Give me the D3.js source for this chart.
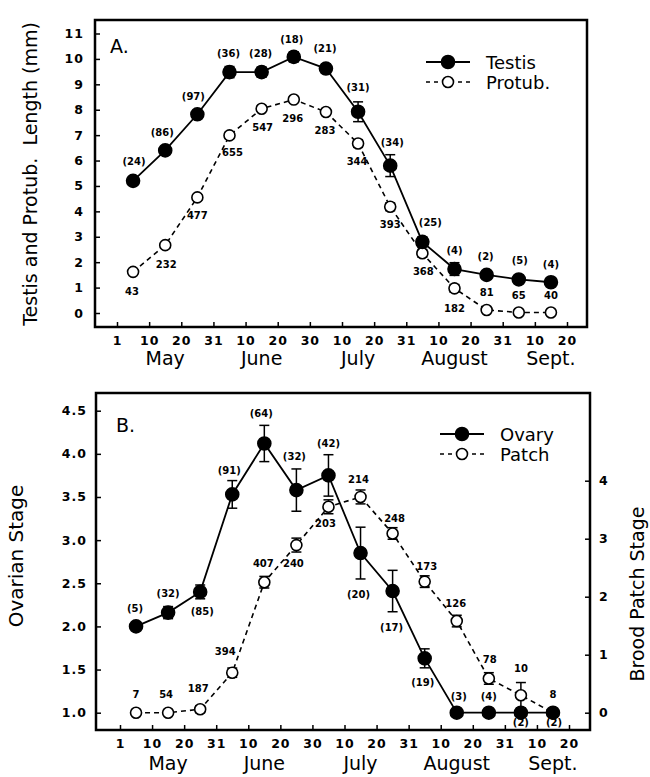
<!DOCTYPE html>
<html>
<head>
<meta charset="utf-8">
<script src="https://cdn.jsdelivr.net/npm/d3@7"></script>
<style>
  body { margin: 0; background: #fff; }
  svg { display: block; }
  text { font-family: "DejaVu Sans", sans-serif; fill: #000; }
  .tick text { font-size: 12.5px; font-weight: bold; letter-spacing: 1px; }
  .tick line { stroke: #000; stroke-width: 1.5; }
  .nlab { font-size: 10px; font-weight: bold; }
</style>
</head>
<body>
<div id="chart"></div>
<script>
// 10-day periods, 1 May – 20 Sept.
const periods = ["May 1-10", "May 11-20", "May 21-31", "Jun 1-10", "Jun 11-20", "Jun 21-30",
    "Jul 1-10", "Jul 11-20", "Jul 21-31", "Aug 1-10", "Aug 11-20", "Aug 21-31", "Sep 1-10", "Sep 11-20"];
const dayTicks = ["1", "10", "20", "31", "10", "20", "30", "10", "20", "31", "10", "20", "31", "10", "20"];
const months = ["May", "June", "July", "August", "Sept."];

// A. testis / protuberance length (mm)
const lengthTicks = [0, 1, 2, 3, 4, 5, 6, 7, 8, 9, 10, 11];
const testis = [5.2, 6.4, 7.82, 9.48, 9.48, 10.08, 9.62, 7.92, 5.8, 2.8, 1.73, 1.5, 1.32, 1.21];
const testisErr = [0.12, 0.1, 0.12, 0.22, 0.2, 0.2, 0.18, 0.39, 0.43, 0.2, 0.25, 0.1, 0.15, 0.1];
const testisN = ["(24)", "(86)", "(97)", "(36)", "(28)", "(18)", "(21)", "(31)", "(34)", "(25)", "(4)", "(2)", "(5)", "(4)"];
const protub = [1.62, 2.67, 4.55, 6.99, 8.04, 8.4, 7.91, 6.67, 4.18, 2.35, 0.97, 0.12, 0.02, 0.02];
const protubErr = [0.1, 0.1, 0.1, 0.12, 0.1, 0.1, 0.1, 0.15, 0.15, 0.15, 0.15, 0.1, 0.1, 0];
const protubN = ["43", "232", "477", "655", "547", "296", "283", "344", "393", "368", "182", "81", "65", "40"];

// B. ovarian stage (left) / brood patch stage (right)
const ovaryTicks = [1.0, 1.5, 2.0, 2.5, 3.0, 3.5, 4.0, 4.5];
const patchTicks = [0, 1, 2, 3, 4];
const ovary = [2.0, 2.16, 2.4, 3.53, 4.12, 3.58, 3.75, 2.85, 2.41, 1.63, 1.0, 1.0, 1.0, 1.0];
const ovaryErr = [0, 0.07, 0.08, 0.16, 0.21, 0.245, 0.24, 0.3, 0.24, 0.11, 0, 0, 0, 0];
const ovaryN = ["(5)", "(32)", "(85)", "(91)", "(64)", "(32)", "(42)", "(20)", "(17)", "(19)", "(3)", "(4)", "(2)", "(2)"];
const patch = [0, 0, 0.06, 0.69, 2.25, 2.89, 3.55, 3.72, 3.09, 2.26, 1.58, 0.59, 0.3, 0];
const patchErr = [0, 0, 0.06, 0.08, 0.1, 0.12, 0.12, 0.12, 0.1, 0.1, 0.1, 0.1, 0.22, 0];
const patchN = ["7", "54", "187", "394", "407", "240", "203", "214", "248", "173", "126", "78", "10", "8"];

// label offsets from each point (layout only)
const testisOff = [[1,-19],[-3,-18],[-4,-18],[-1,-19],[-1,-19],[-2,-17],[-1,-20],[0,-24],[2,-23],[8,-19],[0,-19],[-1,-18],[1,-19],[0,-18]];
const protubOff = [[-1,20],[1,19],[0,18],[3,17],[1,19],[-1,19],[-1,18],[-1,18],[0,18],[1,18],[0,20],[0,-17],[0,-17],[0,-17]];
const ovaryOff = [[-1,-18],[0,-19],[2,20],[-3,-24],[-3,-30],[-2,-34],[0,-32],[-2,41],[-1,36],[-2,24],[2,-16],[0,-16],[0,10],[1,10]];
const patchOff = [[0,-18],[-2,-18],[-2,-21],[-7,-21],[-1,-19],[-3,18],[-3,17],[-2,-17],[2,-15],[2,-15],[-1,-18],[1,-19],[0,-27],[0,-18]];

const width = 650;
const height = 777;

const svg = d3.select("#chart")
    .append("svg")
    .attr("width", width)
    .attr("height", height);

function frame(f) {
    svg.append("rect")
        .attr("x", f.left).attr("y", f.top)
        .attr("width", f.right - f.left).attr("height", f.bottom - f.top)
        .attr("fill", "none").attr("stroke", "#000").attr("stroke-width", 2.5);
}

function xAxis(x, f, monthY) {
    svg.append("g")
        .attr("transform", `translate(0,${f.bottom})`)
        .call(d3.axisBottom(x)
            .tickValues(d3.range(dayTicks.length))
            .tickFormat((d, i) => dayTicks[i])
            .tickSize(-5)
            .tickSizeOuter(0)
            .tickPadding(9))
        .call(g => g.select(".domain").remove());

    svg.append("g").selectAll("text")
        .data(months)
        .join("text")
        .attr("x", (d, i) => x(1.5 + 3 * i))
        .attr("y", monthY)
        .attr("text-anchor", "middle")
        .attr("font-size", 19)
        .text(d => d);
}

function series(x, y, vals, errs, labels, offs, filled) {
    const g = svg.append("g");
    const line = d3.line().x((d, i) => x(i + 0.5)).y(d => y(d));

    g.append("path")
        .datum(vals)
        .attr("fill", "none")
        .attr("stroke", "#000")
        .attr("stroke-width", filled ? 1.8 : 1.6)
        .attr("stroke-dasharray", filled ? null : "5,4")
        .attr("d", line);

    const bars = g.append("g")
        .attr("stroke", "#000")
        .attr("stroke-width", 1.5)
        .selectAll("g")
        .data(vals.map((v, i) => ({ v, e: errs[i], i })).filter(d => d.e > 0))
        .join("g");
    bars.append("line")
        .attr("x1", d => x(d.i + 0.5)).attr("x2", d => x(d.i + 0.5))
        .attr("y1", d => y(d.v - d.e)).attr("y2", d => y(d.v + d.e));
    bars.append("line")
        .attr("x1", d => x(d.i + 0.5) - 5).attr("x2", d => x(d.i + 0.5) + 5)
        .attr("y1", d => y(d.v + d.e)).attr("y2", d => y(d.v + d.e));
    bars.append("line")
        .attr("x1", d => x(d.i + 0.5) - 5).attr("x2", d => x(d.i + 0.5) + 5)
        .attr("y1", d => y(d.v - d.e)).attr("y2", d => y(d.v - d.e));

    g.append("g")
        .selectAll("circle")
        .data(vals)
        .join("circle")
        .attr("cx", (d, i) => x(i + 0.5))
        .attr("cy", d => y(d))
        .attr("r", filled ? 6.5 : 5.5)
        .attr("fill", filled ? "#000" : "#fff")
        .attr("stroke", "#000")
        .attr("stroke-width", 1.6);
    if (!filled) bars.raise();

    g.append("g").selectAll("text")
        .data(labels)
        .join("text")
        .attr("class", "nlab")
        .attr("x", (d, i) => x(i + 0.5) + offs[i][0])
        .attr("y", (d, i) => y(vals[i]) + offs[i][1])
        .attr("text-anchor", "middle")
        .attr("dominant-baseline", "central")
        .text(d => d);
}

function legend(x0, y0, names) {
    const g = svg.append("g").attr("transform", `translate(${x0},${y0})`);
    names.forEach((name, i) => {
        const row = g.append("g").attr("transform", `translate(0,${i * 20})`);
        row.append("line")
            .attr("x1", 0).attr("x2", 44)
            .attr("stroke", "#000")
            .attr("stroke-width", i === 0 ? 1.8 : 1.6)
            .attr("stroke-dasharray", i === 0 ? null : "4,4");
        row.append("circle")
            .attr("cx", 22).attr("r", i === 0 ? 6.5 : 5.5)
            .attr("fill", i === 0 ? "#000" : "#fff")
            .attr("stroke", "#000").attr("stroke-width", 1.6);
        row.append("text")
            .attr("x", 60).attr("y", 6.5)
            .attr("font-size", 18)
            .text(name);
    });
}

// ---------- Panel A ----------
const fA = { left: 95, top: 20, right: 587, bottom: 327 };
const xA = d3.scaleLinear().domain([0, 14]).range([117, 567]);
const yA = d3.scaleLinear().domain([0, 11]).range([313, 33.5]);

frame(fA);
svg.append("g")
    .attr("transform", `translate(${fA.left},0)`)
    .call(d3.axisLeft(yA).tickValues(lengthTicks).tickFormat(d3.format("d")).tickSize(-5).tickSizeOuter(0).tickPadding(11))
    .call(g => g.select(".domain").remove());
xAxis(xA, fA, 365);

series(xA, yA, protub, protubErr, protubN, protubOff, false);
series(xA, yA, testis, testisErr, testisN, testisOff, true);
legend(426, 62, ["Testis", "Protub."]);

svg.append("text").attr("x", 110).attr("y", 53).attr("font-size", 19).text("A.");
svg.append("text")
    .attr("transform", "translate(37,174) rotate(-90)")
    .attr("text-anchor", "middle")
    .attr("font-size", 19)
    .attr("xml:space", "preserve")
    .text("Testis and Protub.  Length (mm)");

// ---------- Panel B ----------
const fB = { left: 96, top: 393, right: 590, bottom: 730 };
const xB = d3.scaleLinear().domain([0, 14]).range([120, 569]);
const yB = d3.scaleLinear().domain([1, 4.5]).range([712.7, 410.7]);
const yR = d3.scaleLinear().domain([0, 4]).range([712.7, 480.7]);

frame(fB);
svg.append("g")
    .attr("transform", `translate(${fB.left},0)`)
    .call(d3.axisLeft(yB).tickValues(ovaryTicks).tickFormat(d3.format(".1f")).tickSize(-5).tickSizeOuter(0).tickPadding(9))
    .call(g => g.select(".domain").remove());
svg.append("g")
    .attr("transform", `translate(${fB.right},0)`)
    .call(d3.axisRight(yR).tickValues(patchTicks).tickFormat(d3.format("d")).tickSize(-5).tickSizeOuter(0).tickPadding(9))
    .call(g => g.select(".domain").remove());
xAxis(xB, fB, 770);

series(xB, yR, patch, patchErr, patchN, patchOff, false);
series(xB, yB, ovary, ovaryErr, ovaryN, ovaryOff, true);
legend(440, 434, ["Ovary", "Patch"]);

svg.append("text").attr("x", 116).attr("y", 432).attr("font-size", 19).text("B.");
svg.append("text")
    .attr("transform", "translate(23,556) rotate(-90)")
    .attr("text-anchor", "middle")
    .attr("font-size", 20)
    .text("Ovarian Stage");
svg.append("text")
    .attr("transform", "translate(644,594) rotate(-90)")
    .attr("text-anchor", "middle")
    .attr("font-size", 19)
    .text("Brood Patch Stage");
</script>
</body>
</html>
